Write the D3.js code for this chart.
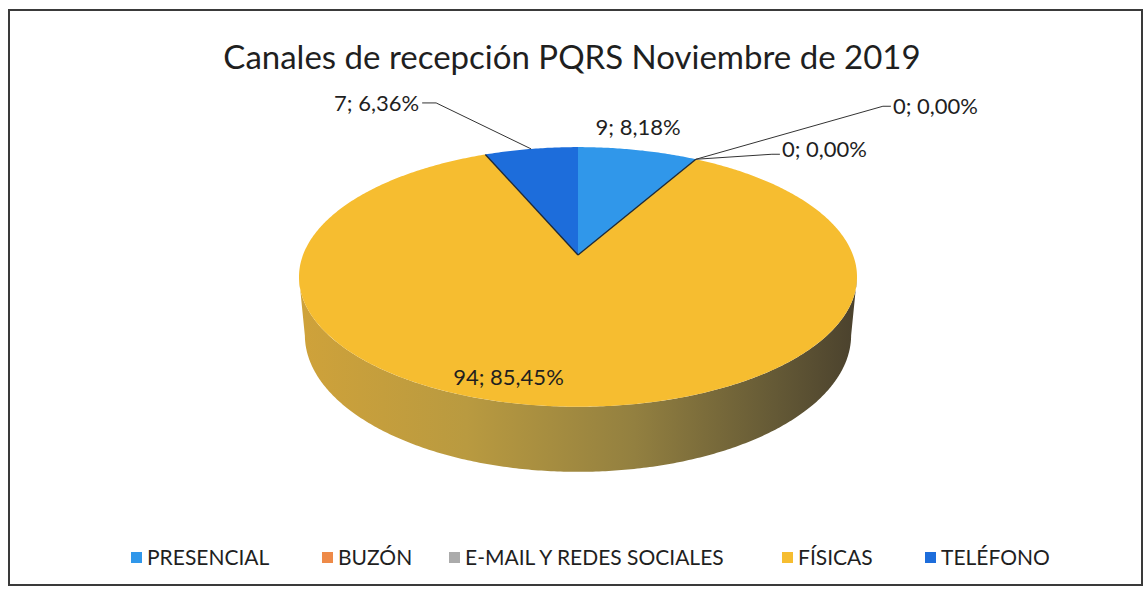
<!DOCTYPE html>
<html>
<head>
<meta charset="utf-8">
<script src="https://cdn.jsdelivr.net/npm/d3@7"></script>
<style>
  body { margin: 0; background: #fff; }
  svg { display: block; }
  text { font-family: Lato, "Open Sans", sans-serif; fill: #1f1f1f; }
</style>
</head>
<body>
<svg id="chart" width="1145" height="596"></svg>
<script>
"use strict";

const title = "Canales de recepción PQRS Noviembre de 2019";
const categories = ["PRESENCIAL", "BUZÓN", "E-MAIL Y REDES SOCIALES", "FÍSICAS", "TELÉFONO"];
const values = [9, 0, 0, 94, 7];
const colors = ["#3097ea", "#ee8a48", "#ababab", "#f6bd30", "#1d6ddb"];

const width = 1145;
const height = 596;
const svg = d3.select("#chart");

// 3d pie geometry (perspective projection of a flat cylinder)
const cx = 578, cy = 255;
const kR = 275;          // screen radius at centre depth
const persp = 0.19;      // radius / camera distance
const tilt = 27.3 * Math.PI / 180;
const depthR = 0.24;     // thickness / radius

const project = (a, r, lvl) => {
  const X = r * Math.sin(a);
  const Z = r * Math.cos(a);
  const Y = -lvl * depthR;
  const dd = 1 + persp * (Z * Math.cos(tilt) - Y * Math.sin(tilt));
  return [cx + (kR * X) / dd, cy - (kR * (Z * Math.sin(tilt) + Y * Math.cos(tilt))) / dd];
};

const total = d3.sum(values);
const pct = d3.format(".2f");
const labelText = (i) => `${values[i]}; ${pct((values[i] / total) * 100).replace(".", ",")}%`;

const pie = d3.pie().sort(null).value((d) => d);
const arcs = pie(values);

const line = d3.line();
const arcPoints = (a0, a1, lvl) => {
  const n = Math.max(2, Math.ceil(Math.abs(a1 - a0) / 0.01));
  return d3.range(n + 1).map((k) => project(a0 + ((a1 - a0) * k) / n, 1, lvl));
};

// silhouette angles of the side wall
const samples = d3.range(0, 2 * Math.PI, 0.002);
const aRight = samples[d3.maxIndex(samples, (a) => project(a, 1, 0)[0])];
const aLeft = samples[d3.minIndex(samples, (a) => project(a, 1, 0)[0])];

const defs = svg.append("defs");
const grad = defs
  .append("linearGradient")
  .attr("id", "side")
  .attr("gradientUnits", "userSpaceOnUse")
  .attr("x1", project(aLeft, 1, 0)[0])
  .attr("x2", project(aRight, 1, 0)[0])
  .attr("y1", 0)
  .attr("y2", 0);
grad.append("stop").attr("offset", "0%").attr("stop-color", "#cfa23a");
grad.append("stop").attr("offset", "30%").attr("stop-color", "#b99a40");
grad.append("stop").attr("offset", "60%").attr("stop-color", "#938040");
grad.append("stop").attr("offset", "85%").attr("stop-color", "#655a36");
grad.append("stop").attr("offset", "100%").attr("stop-color", "#4a412d");

// frame
svg
  .append("rect")
  .attr("x", 9)
  .attr("y", 10)
  .attr("width", 1133)
  .attr("height", 575)
  .attr("fill", "#fff")
  .attr("stroke", "#3a3a3a")
  .attr("stroke-width", 2);

// side wall, per slice, clipped to the visible front range
arcs.forEach((d) => {
  const a0 = Math.max(d.startAngle, aRight);
  const a1 = Math.min(d.endAngle, aLeft);
  if (a1 <= a0) return;
  const top = arcPoints(a0, a1, 0);
  const bottom = arcPoints(a1, a0, 1);
  svg
    .append("path")
    .attr("d", line(top.concat(bottom)) + "Z")
    .attr("fill", "url(#side)");
});

// top faces
svg
  .selectAll("path.top")
  .data(arcs.filter((d) => d.endAngle > d.startAngle))
  .enter()
  .append("path")
  .attr("class", "top")
  .attr("d", (d) => line([[cx, cy]].concat(arcPoints(d.startAngle, d.endAngle, 0))) + "Z")
  .attr("fill", (d) => colors[d.index]);

// dark edge where the blue wedge meets the yellow slice
const fis = arcs[3];
[fis.startAngle, fis.endAngle].forEach((a) => {
  svg
    .append("path")
    .attr("d", line([[cx, cy], project(a, 1, 0)]))
    .attr("stroke", "#1e2a38")
    .attr("stroke-width", 1.4)
    .attr("fill", "none");
});

// data labels
const mid = (d) => (d.startAngle + d.endAngle) / 2;
const lbl = svg.append("g").style("font-size", "22px");

// PRESENCIAL: above the rim
{
  const p = project(mid(arcs[0]), 1, 0);
  lbl.append("text").attr("x", p[0]).attr("y", p[1] - 15).attr("text-anchor", "middle").text(labelText(0));
}

// TELÉFONO: leader line to the upper left
{
  const p = project(mid(arcs[4]), 1, 0);
  const end = [p[0] - 95, p[1] - 46];
  lbl
    .append("path")
    .attr("d", line([p, end, [end[0] - 14, end[1]]]))
    .attr("stroke", "#333")
    .attr("fill", "none");
  lbl.append("text").attr("x", end[0] - 17).attr("y", end[1] + 8).attr("text-anchor", "end").text(labelText(4));
}

// zero slices: leader lines to the right
{
  const p = project(arcs[1].startAngle, 1, 0);
  const e1 = [p[0] + 187, p[1] - 53];
  lbl
    .append("path")
    .attr("d", line([p, e1, [e1[0] + 8, e1[1]]]))
    .attr("stroke", "#333")
    .attr("fill", "none");
  lbl.append("text").attr("x", e1[0] + 10).attr("y", e1[1] + 8).text(labelText(1));

  const e2 = [p[0] + 76, p[1] - 5];
  lbl
    .append("path")
    .attr("d", line([p, e2, [e2[0] + 8, e2[1]]]))
    .attr("stroke", "#333")
    .attr("fill", "none");
  lbl.append("text").attr("x", e2[0] + 10).attr("y", e2[1] + 3).text(labelText(2));
}

// FÍSICAS: on the face
{
  const p = project(mid(arcs[3]), 0.8, 0);
  lbl.append("text").attr("x", p[0] - 55).attr("y", p[1] + 14).attr("text-anchor", "middle").text(labelText(3));
}

// title
svg
  .append("text")
  .attr("x", 572)
  .attr("y", 69)
  .attr("text-anchor", "middle")
  .style("font-size", "33px")
  .text(title);

// legend
const legendX = [131, 322, 449, 782, 925];
const legend = svg
  .selectAll("g.legend")
  .data(categories)
  .enter()
  .append("g")
  .attr("class", "legend")
  .attr("transform", (d, i) => `translate(${legendX[i]},558)`);

legend
  .append("rect")
  .attr("x", 0)
  .attr("y", -6)
  .attr("width", 11)
  .attr("height", 11)
  .attr("fill", (d, i) => colors[i]);

legend
  .append("text")
  .attr("x", 16)
  .attr("y", 7)
  .style("font-size", "21px")
  .text((d) => d);
</script>
</body>
</html>
